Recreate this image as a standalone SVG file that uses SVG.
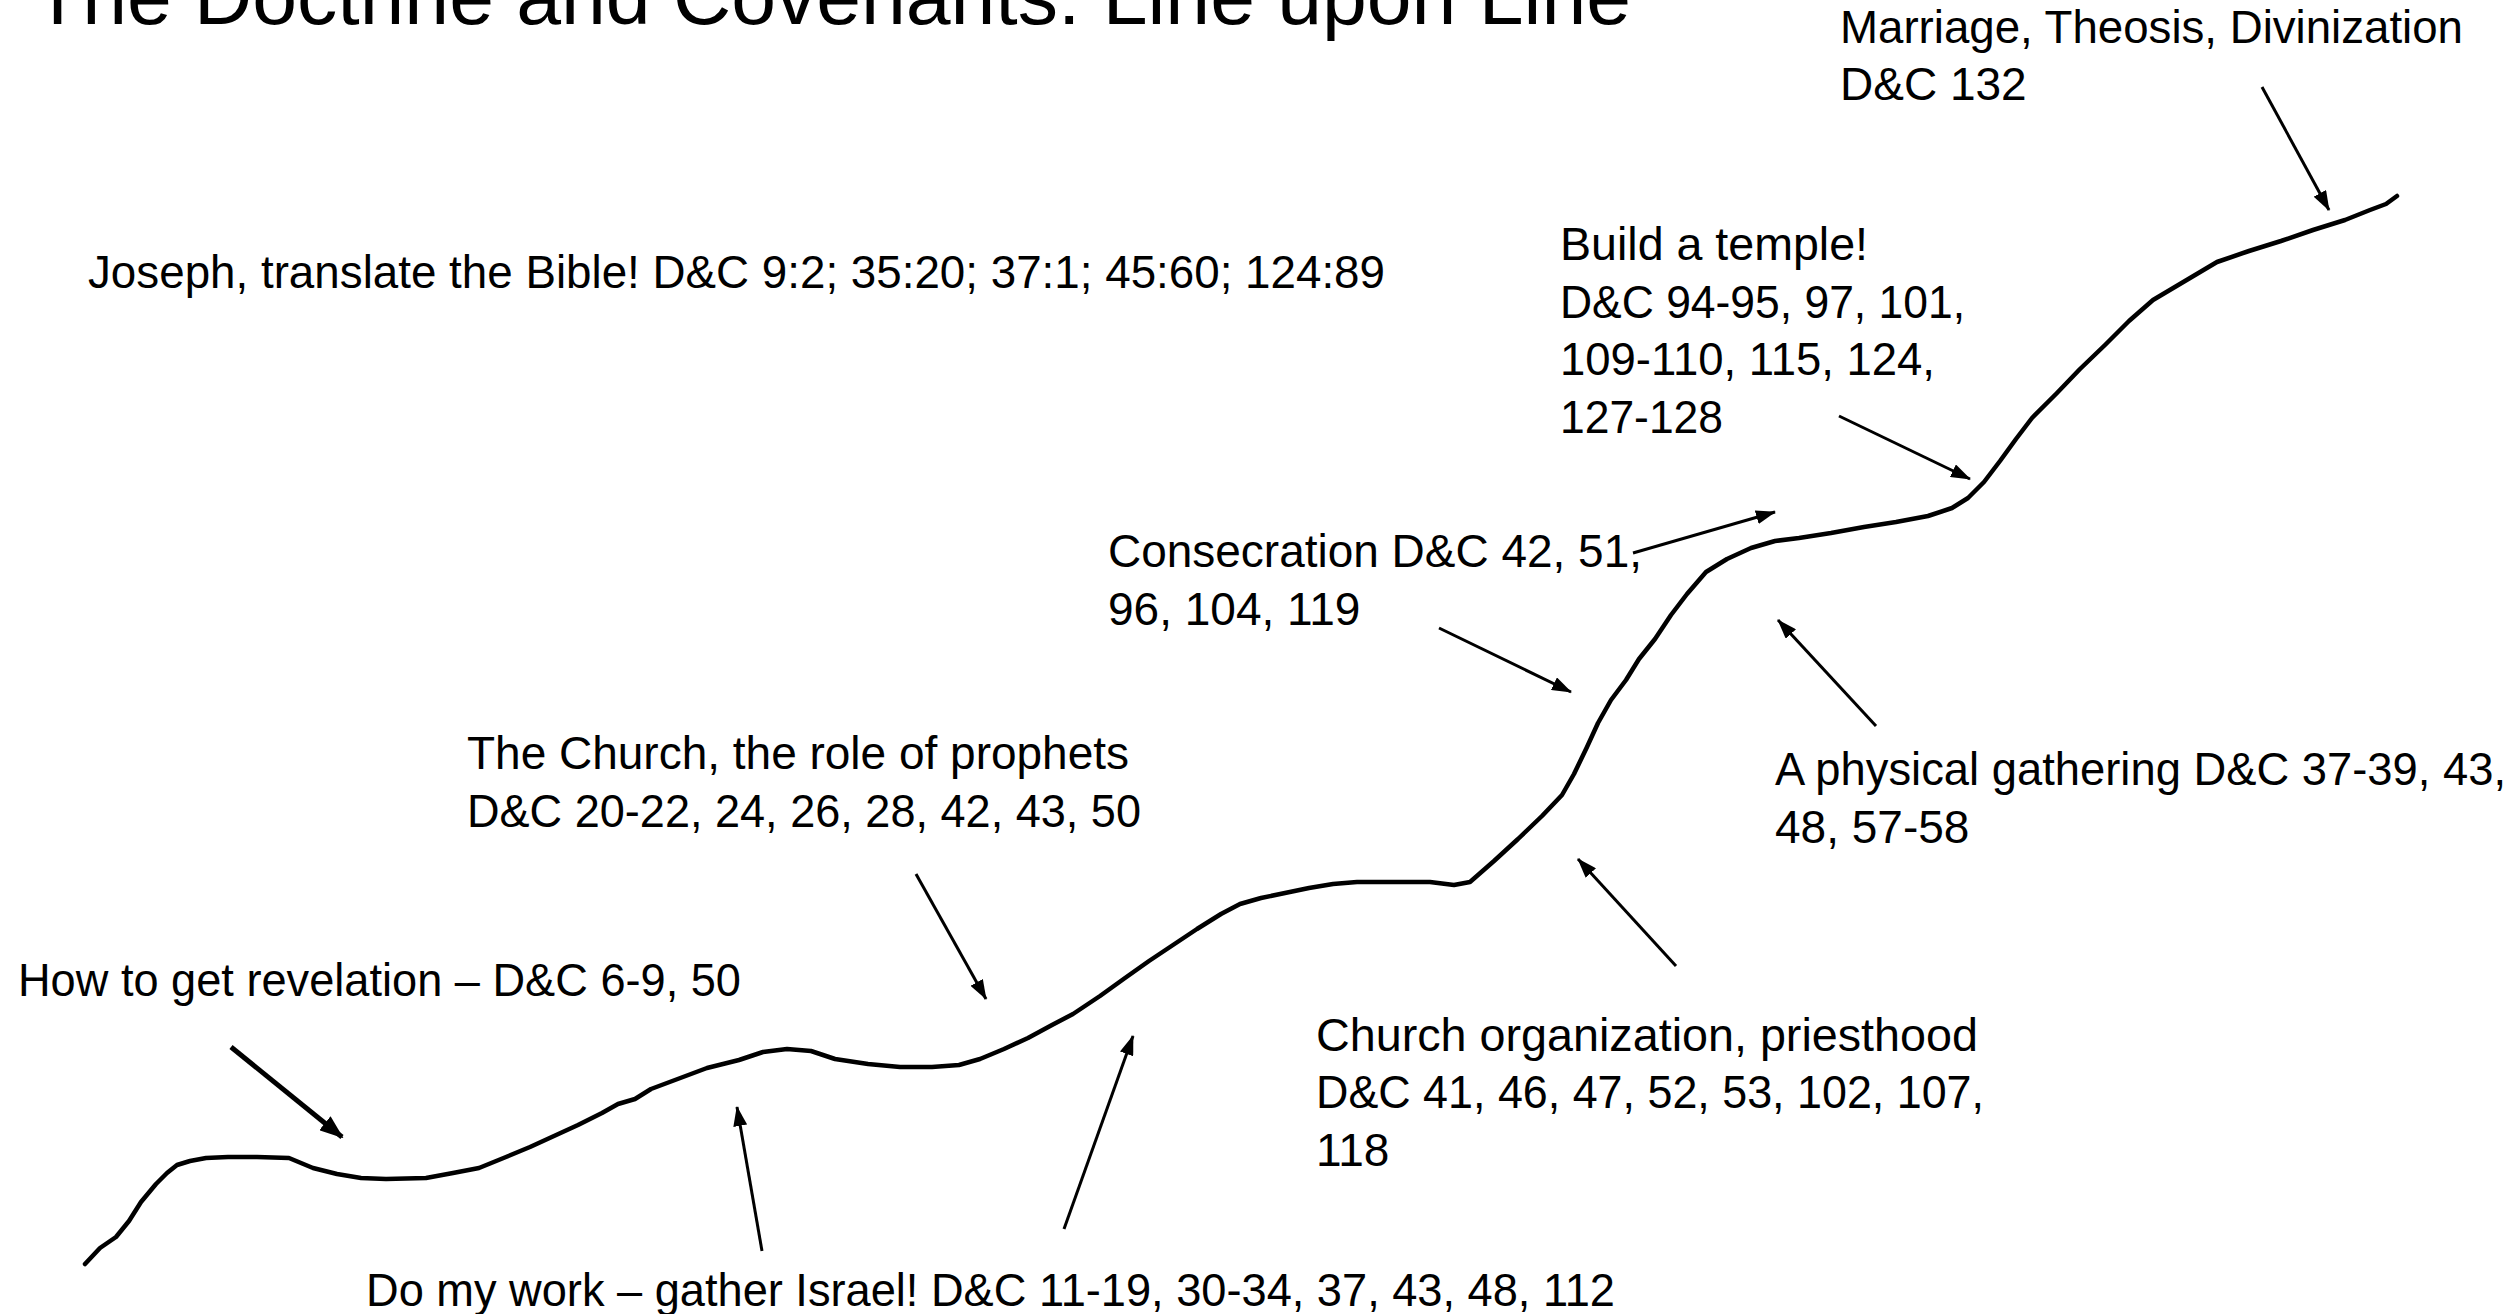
<svg xmlns="http://www.w3.org/2000/svg" width="2519" height="1314" viewBox="0 0 2519 1314">
<style>
text{font-family:"Liberation Sans",Arial,sans-serif;font-size:46px;fill:#000}
.title{font-size:80px}
.arr{stroke:#000;stroke-width:3;fill:none;marker-end:url(#ah)}
.arrb{stroke:#000;stroke-width:5;fill:none;marker-end:url(#ahb)}
.curve{stroke:#000;stroke-width:4.5;fill:none;stroke-linecap:round;stroke-linejoin:round}
</style>
<defs>
<marker id="ah" markerUnits="userSpaceOnUse" markerWidth="20" markerHeight="14" refX="19" refY="7" orient="auto"><path d="M0,0 L20,7 L0,14 z" fill="#000"/></marker>
<marker id="ahb" markerUnits="userSpaceOnUse" markerWidth="24" markerHeight="18" refX="22" refY="9" orient="auto"><path d="M0,0 L24,9 L0,18 z" fill="#000"/></marker>
</defs>
<rect width="2519" height="1314" fill="#fff"/>
<g id="title"><text class="title" x="33" y="24" textLength="1598" lengthAdjust="spacingAndGlyphs">The Doctrine and Covenants: Line upon Line</text></g>
<g id="curve"><path class="curve" d="M85,1264 L100,1248 L116,1237 L129,1221 L141,1202 L156,1184 L167,1173 L177,1165 L190,1161 L206,1158 L228,1157 L257,1157 L289,1158 L313,1168 L337,1174 L361,1178 L386,1179 L426,1178 L453,1173 L479,1168 L506,1157 L530,1147 L554,1136 L578,1125 L602,1113 L618,1104 L635,1099 L651,1089 L675,1080 L707,1068 L739,1060 L763,1052 L787,1049 L811,1051 L835,1059 L868,1064 L900,1067 L932,1067 L959,1065 L980,1059 L1004,1049 L1028,1038 L1052,1025 L1073,1014 L1100,996 L1125,978 L1149,961 L1173,945 L1197,929 L1221,914 L1240,904 L1261,898 L1285,893 L1309,888 L1333,884 L1357,882 L1398,882 L1430,882 L1454,885 L1470,882 L1494,861 L1518,839 L1542,816 L1562,795 L1574,774 L1587,747 L1598,723 L1611,700 L1626,680 L1639,659 L1655,639 L1671,615 L1687,594 L1706,572 L1727,559 L1751,548 L1775,541 L1799,538 L1831,533 L1864,527 L1896,522 L1928,516 L1952,508 L1968,498 L1984,482 L2000,461 L2016,439 L2032,418 L2056,394 L2080,369 L2105,345 L2129,321 L2153,300 L2185,281 L2217,262 L2249,251 L2281,241 L2313,230 L2345,220 L2370,210 L2386,204 L2397,196"/></g>
<g id="connectors">
<line class="arr" x1="2262" y1="87" x2="2329" y2="210"/>
<line class="arr" x1="1839" y1="416" x2="1970" y2="479"/>
<line class="arr" x1="1633" y1="553" x2="1775" y2="512"/>
<line class="arr" x1="1439" y1="628" x2="1571" y2="692"/>
<line class="arr" x1="1876" y1="726" x2="1778" y2="620"/>
<line class="arr" x1="916" y1="874" x2="986" y2="999"/>
<line class="arr" x1="1676" y1="966" x2="1578" y2="859"/>
<line class="arrb" x1="231" y1="1047" x2="342" y2="1137"/>
<line class="arr" x1="762" y1="1251" x2="737" y2="1107"/>
<line class="arr" x1="1064" y1="1229" x2="1133" y2="1036"/>
</g>
<g id="n-marriage"><text x="1840" y="43" textLength="623" lengthAdjust="spacingAndGlyphs">Marriage, Theosis, Divinization</text><text x="1840" y="100">D&amp;C 132</text></g>
<g id="n-joseph"><text x="88" y="288" textLength="1297" lengthAdjust="spacingAndGlyphs">Joseph, translate the Bible! D&amp;C 9:2; 35:20; 37:1; 45:60; 124:89</text></g>
<g id="n-temple"><text x="1560" y="260" textLength="308" lengthAdjust="spacingAndGlyphs">Build a temple!</text><text x="1560" y="318" textLength="405" lengthAdjust="spacingAndGlyphs">D&amp;C 94-95, 97, 101,</text><text x="1560" y="375" textLength="375" lengthAdjust="spacingAndGlyphs">109-110, 115, 124,</text><text x="1560" y="433" textLength="163" lengthAdjust="spacingAndGlyphs">127-128</text></g>
<g id="n-consecration"><text x="1108" y="567" textLength="534" lengthAdjust="spacingAndGlyphs">Consecration D&amp;C 42, 51,</text><text x="1108" y="625">96, 104, 119</text></g>
<g id="n-gathering"><text x="1775" y="785" textLength="731" lengthAdjust="spacingAndGlyphs">A physical gathering D&amp;C 37-39, 43,</text><text x="1775" y="843">48, 57-58</text></g>
<g id="n-church"><text x="467" y="769" textLength="662" lengthAdjust="spacingAndGlyphs">The Church, the role of prophets</text><text x="467" y="827" textLength="674" lengthAdjust="spacingAndGlyphs">D&amp;C 20-22, 24, 26, 28, 42, 43, 50</text></g>
<g id="n-revelation"><text x="18" y="996" textLength="723" lengthAdjust="spacingAndGlyphs">How to get revelation – D&amp;C 6-9, 50</text></g>
<g id="n-organization"><text x="1316" y="1051" textLength="662" lengthAdjust="spacingAndGlyphs">Church organization, priesthood</text><text x="1316" y="1108" textLength="668" lengthAdjust="spacingAndGlyphs">D&amp;C 41, 46, 47, 52, 53, 102, 107,</text><text x="1316" y="1166">118</text></g>
<g id="n-work"><text x="366" y="1306" textLength="1249" lengthAdjust="spacingAndGlyphs">Do my work – gather Israel! D&amp;C 11-19, 30-34, 37, 43, 48, 112</text></g>
</svg>
